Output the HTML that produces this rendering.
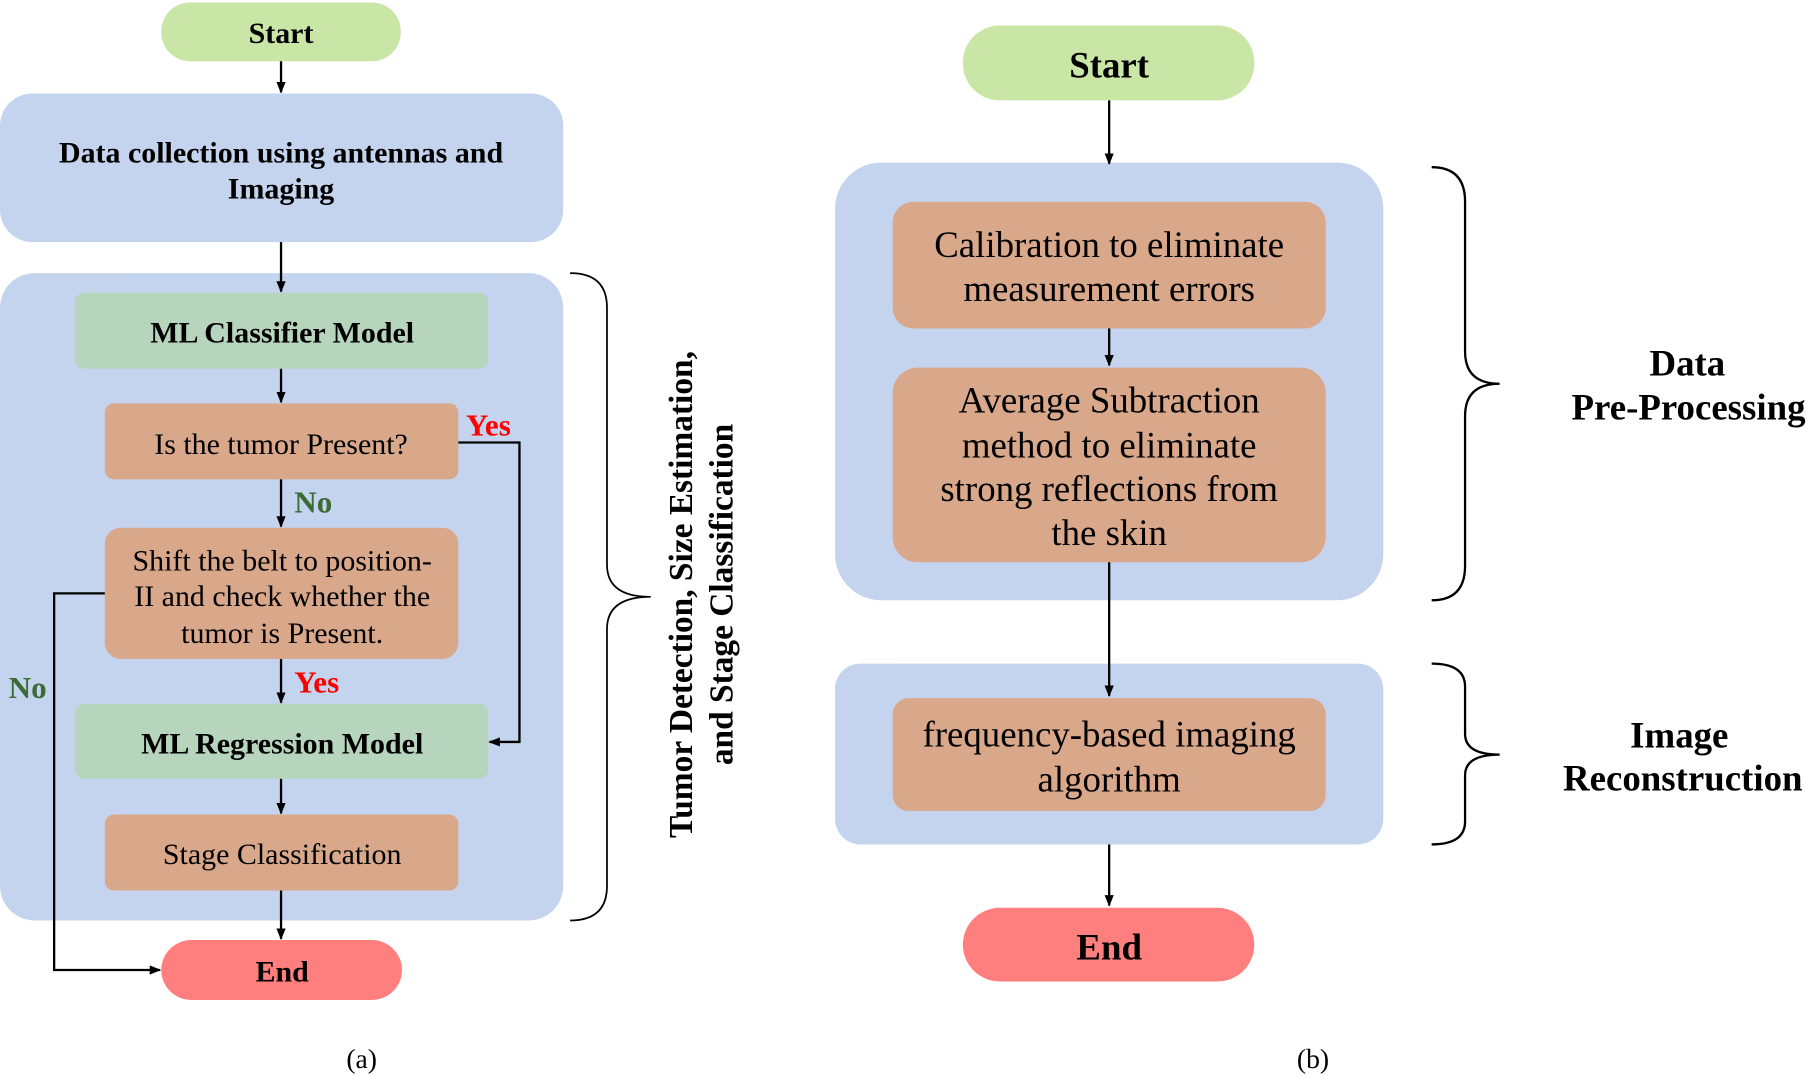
<!DOCTYPE html>
<html><head><meta charset="utf-8"><style>
html,body{margin:0;padding:0;background:#fff;}
svg{display:block;}
text{font-family:"Liberation Serif",serif;fill:#000;}
.b{font-weight:bold;}
</style></head><body>
<svg width="1806" height="1075" viewBox="0 0 1568 933" xmlns="http://www.w3.org/2000/svg">
<defs><marker id="ar" markerWidth="10" markerHeight="10" refX="9" refY="5" orient="auto" markerUnits="userSpaceOnUse"><path d="M0,1 L10,5 L0,9 Z" fill="#000"/></marker></defs>
<!-- LEFT -->
<rect x="140" y="2" width="208" height="51" rx="25" fill="#c9e6a6"/>
<text x="244" y="37" font-size="26" class="b" text-anchor="middle">Start</text>
<rect x="0" y="81" width="489" height="129" rx="28" fill="#c5d4ee"/>
<text x="244" y="141" font-size="26" class="b" text-anchor="middle">Data collection using antennas and</text>
<text x="244" y="172" font-size="26" class="b" text-anchor="middle">Imaging</text>
<rect x="0" y="237" width="489" height="562" rx="30" fill="#c5d4ee"/>
<rect x="65" y="254" width="359" height="66" rx="8" fill="#b7d5bc"/>
<text x="245" y="297" font-size="26" class="b" text-anchor="middle">ML Classifier Model</text>
<rect x="91" y="350" width="307" height="66" rx="8" fill="#d9a78a"/>
<text x="244" y="394" font-size="26" text-anchor="middle">Is the tumor Present?</text>
<rect x="91" y="458" width="307" height="114" rx="14" fill="#d9a78a"/>
<text x="245" y="495" font-size="26" text-anchor="middle">Shift the belt to position-</text>
<text x="245" y="526" font-size="26" text-anchor="middle">II and check whether the</text>
<text x="245" y="558" font-size="26" text-anchor="middle">tumor is Present.</text>
<rect x="65" y="611" width="359" height="65" rx="8" fill="#b7d5bc"/>
<text x="245" y="654" font-size="26" class="b" text-anchor="middle">ML Regression Model</text>
<rect x="91" y="707" width="307" height="66" rx="8" fill="#d9a78a"/>
<text x="245" y="750" font-size="26" text-anchor="middle">Stage Classification</text>
<rect x="140" y="816" width="209" height="52" rx="26" fill="#ff7f7f"/>
<text x="245" y="852" font-size="26" class="b" text-anchor="middle">End</text>
<text x="424" y="378" font-size="27" class="b" text-anchor="middle" style="fill:#ff0000">Yes</text>
<text x="272" y="445" font-size="27" class="b" text-anchor="middle" style="fill:#3d6b35">No</text>
<text x="275" y="601" font-size="27" class="b" text-anchor="middle" style="fill:#ff0000">Yes</text>
<text x="24" y="606" font-size="27" class="b" text-anchor="middle" style="fill:#3d6b35">No</text>
<g stroke="#000" stroke-width="2" fill="none">
<line x1="244" y1="53" x2="244" y2="80" marker-end="url(#ar)"/>
<line x1="244" y1="210" x2="244" y2="253" marker-end="url(#ar)"/>
<line x1="244" y1="320" x2="244" y2="349" marker-end="url(#ar)"/>
<line x1="244" y1="416" x2="244" y2="457" marker-end="url(#ar)"/>
<line x1="244" y1="572" x2="244" y2="610" marker-end="url(#ar)"/>
<line x1="244" y1="676" x2="244" y2="706" marker-end="url(#ar)"/>
<line x1="244" y1="773" x2="244" y2="815" marker-end="url(#ar)"/>
<polyline points="398,384 451,384 451,644 425,644" marker-end="url(#ar)"/>
<polyline points="91,515 47,515 47,842 139,842" marker-end="url(#ar)"/>
<path d="M495,237 Q527,237 527,267 L527,490 Q527,518 565,518 Q527,518 527,546 L527,769 Q527,799 495,799" stroke-width="1.5"/>
</g>
<text transform="translate(601,516) rotate(-90)" font-size="29" class="b" text-anchor="middle">Tumor Detection, Size Estimation,</text>
<text transform="translate(636,516) rotate(-90)" font-size="29" class="b" text-anchor="middle">and Stage Classification</text>
<text x="314" y="927" font-size="24" text-anchor="middle">(a)</text>
<!-- RIGHT -->
<rect x="836" y="22" width="253" height="65" rx="32" fill="#c9e6a6"/>
<text x="963" y="67" font-size="32" class="b" text-anchor="middle">Start</text>
<rect x="725" y="141" width="476" height="380" rx="40" fill="#c5d4ee"/>
<rect x="775" y="175" width="376" height="110" rx="18" fill="#d9a78a"/>
<text x="963" y="223" font-size="32" text-anchor="middle">Calibration to eliminate</text>
<text x="963" y="261" font-size="32" text-anchor="middle">measurement errors</text>
<rect x="775" y="319" width="376" height="169" rx="22" fill="#d9a78a"/>
<text x="963" y="358" font-size="32" text-anchor="middle">Average Subtraction</text>
<text x="963" y="397" font-size="32" text-anchor="middle">method to eliminate</text>
<text x="963" y="435" font-size="32" text-anchor="middle">strong reflections from</text>
<text x="963" y="473" font-size="32" text-anchor="middle">the skin</text>
<rect x="725" y="576" width="476" height="157" rx="22" fill="#c5d4ee"/>
<rect x="775" y="606" width="376" height="98" rx="14" fill="#d9a78a"/>
<text x="963" y="648" font-size="32" text-anchor="middle">frequency-based imaging</text>
<text x="963" y="687" font-size="32" text-anchor="middle">algorithm</text>
<rect x="836" y="788" width="253" height="64" rx="32" fill="#ff7f7f"/>
<text x="963" y="833" font-size="32" class="b" text-anchor="middle">End</text>
<g stroke="#000" stroke-width="2" fill="none">
<line x1="963" y1="87" x2="963" y2="142" marker-end="url(#ar)"/>
<line x1="963" y1="285" x2="963" y2="317" marker-end="url(#ar)"/>
<line x1="963" y1="488" x2="963" y2="604" marker-end="url(#ar)"/>
<line x1="963" y1="733" x2="963" y2="786" marker-end="url(#ar)"/>
<path d="M1243,145 Q1272,145 1272,175 L1272,305 Q1272,333 1302,333 Q1272,333 1272,361 L1272,491 Q1272,521 1243,521" stroke-width="2"/>
<path d="M1243,576 Q1272,576 1272,596 L1272,637 Q1272,655 1302,655 Q1272,655 1272,673 L1272,713 Q1272,733 1243,733" stroke-width="2"/>
</g>
<text x="1465" y="326" font-size="32" class="b" text-anchor="middle">Data</text>
<text x="1466" y="364" font-size="32" class="b" text-anchor="middle">Pre-Processing</text>
<text x="1458" y="649" font-size="32" class="b" text-anchor="middle">Image</text>
<text x="1461" y="686" font-size="32" class="b" text-anchor="middle">Reconstruction</text>
<text x="1140" y="927" font-size="24" text-anchor="middle">(b)</text>
</svg>
</body></html>
